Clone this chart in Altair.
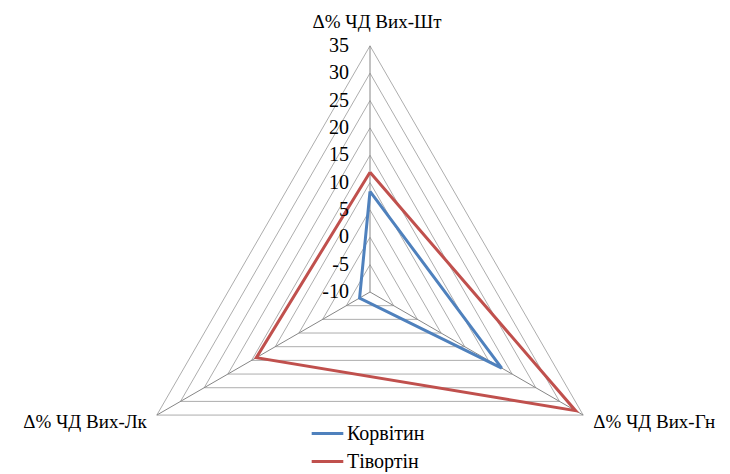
import altair as alt
import pandas as pd

# ---- data ----
axis_names = ["Δ% ЧД Вих-Шт", "Δ% ЧД Вих-Гн", "Δ% ЧД Вих-Лк"]
series_names = ["Корвітин", "Тівортін"]
korvitin = [8.4, 17.8, -7.8]
tivortin = [11.9, 33.4, 14.0]
tick_values = [-10, -5, 0, 5, 10, 15, 20, 25, 30, 35]
tick_labels = ["-10", "-5", "0", "5", "10", "15", "20", "25", "30", "35"]
series_colors = ["#4F81BD", "#C0504D"]

r_min = tick_values[0]
r_max = tick_values[-1]

# ---- tables built from the arrays ----
rows = []
for name, vals in zip(series_names, [korvitin, tivortin]):
    for k in range(len(vals) + 1):  # close the polygon
        rows.append({"series": name, "k": k, "value": vals[k % len(vals)]})
series_df = pd.DataFrame(rows)

ring_rows = []
for t in tick_values[1:]:
    for k in range(len(axis_names) + 1):
        ring_rows.append({"ring": t, "k": k, "value": t})
ring_df = pd.DataFrame(ring_rows)

spoke_df = pd.DataFrame({"k": list(range(len(axis_names))),
                         "value": [r_max] * len(axis_names),
                         "axis": axis_names})
tick_df = pd.DataFrame({"tick": tick_values, "label": tick_labels,
                        "k": [0] * len(tick_values)})

# ---- layout ----
W, H = 714, 456
ppu = 5.47            # pixels per value unit
cx, cy = 362, 284     # centre inside the plot area
xs = alt.Scale(domain=[-cx / ppu, (W - cx) / ppu], nice=False, zero=False)
ys = alt.Scale(domain=[-(H - cy) / ppu, cy / ppu], nice=False, zero=False)

n = len(axis_names)
ang = f"PI/2 - datum.k * 2 * PI / {n}"
FONT = "Liberation Serif"


def to_xy(chart, field="value"):
    return chart.transform_calculate(
        ang=ang,
        rr=f"datum.{field} - ({r_min})",
    ).transform_calculate(
        px="datum.rr * cos(datum.ang)",
        py="datum.rr * sin(datum.ang)",
    )


X = alt.X("px:Q", scale=xs, axis=None)
Y = alt.Y("py:Q", scale=ys, axis=None)

rings = to_xy(alt.Chart(ring_df)).mark_line(
    color="#ADADAD", strokeWidth=1
).encode(x=X, y=Y, detail="ring:N", order="k:Q")

spokes = to_xy(alt.Chart(spoke_df)).transform_calculate(
    zero="0"
).mark_rule(color="#868686", strokeWidth=1).encode(
    x=alt.X("zero:Q", scale=xs, axis=None),
    y=alt.Y("zero:Q", scale=ys, axis=None),
    x2="px:Q", y2="py:Q",
)

lines = to_xy(alt.Chart(series_df)).mark_line(strokeWidth=3).encode(
    x=X, y=Y, order="k:Q",
    color=alt.Color(
        "series:N",
        scale=alt.Scale(domain=series_names, range=series_colors),
        legend=alt.Legend(
            title=None, orient="none", legendX=302, legendY=408,
            symbolType="stroke", symbolSize=1000, symbolStrokeWidth=3,
            labelFont=FONT, labelFontSize=20, labelColor="black",
            labelOffset=2, padding=0, rowPadding=0,
        ),
    ),
)

tick_text = to_xy(alt.Chart(tick_df), "tick").mark_text(
    align="right", baseline="middle", dx=-21,
    font=FONT, fontSize=20, color="black",
).encode(x=X, y=Y, text="label:N")

label_style = dict(font=FONT, fontSize=19, color="black", baseline="middle")
lab_top = to_xy(alt.Chart(spoke_df)).transform_filter("datum.k == 0").mark_text(
    align="center", dx=7, dy=-24, **label_style).encode(x=X, y=Y, text="axis:N")
lab_right = to_xy(alt.Chart(spoke_df)).transform_filter("datum.k == 1").mark_text(
    align="left", dx=10, dy=7, **label_style).encode(x=X, y=Y, text="axis:N")
lab_left = to_xy(alt.Chart(spoke_df)).transform_filter("datum.k == 2").mark_text(
    align="right", dx=-10, dy=7, **label_style).encode(x=X, y=Y, text="axis:N")

chart = alt.layer(
    rings, spokes, lines, tick_text, lab_top, lab_right, lab_left
).properties(
    width=W, height=H, padding=0, background="white"
).configure_view(stroke=None)

chart.save("out.html", embed_options={"renderer": "svg", "actions": False})
